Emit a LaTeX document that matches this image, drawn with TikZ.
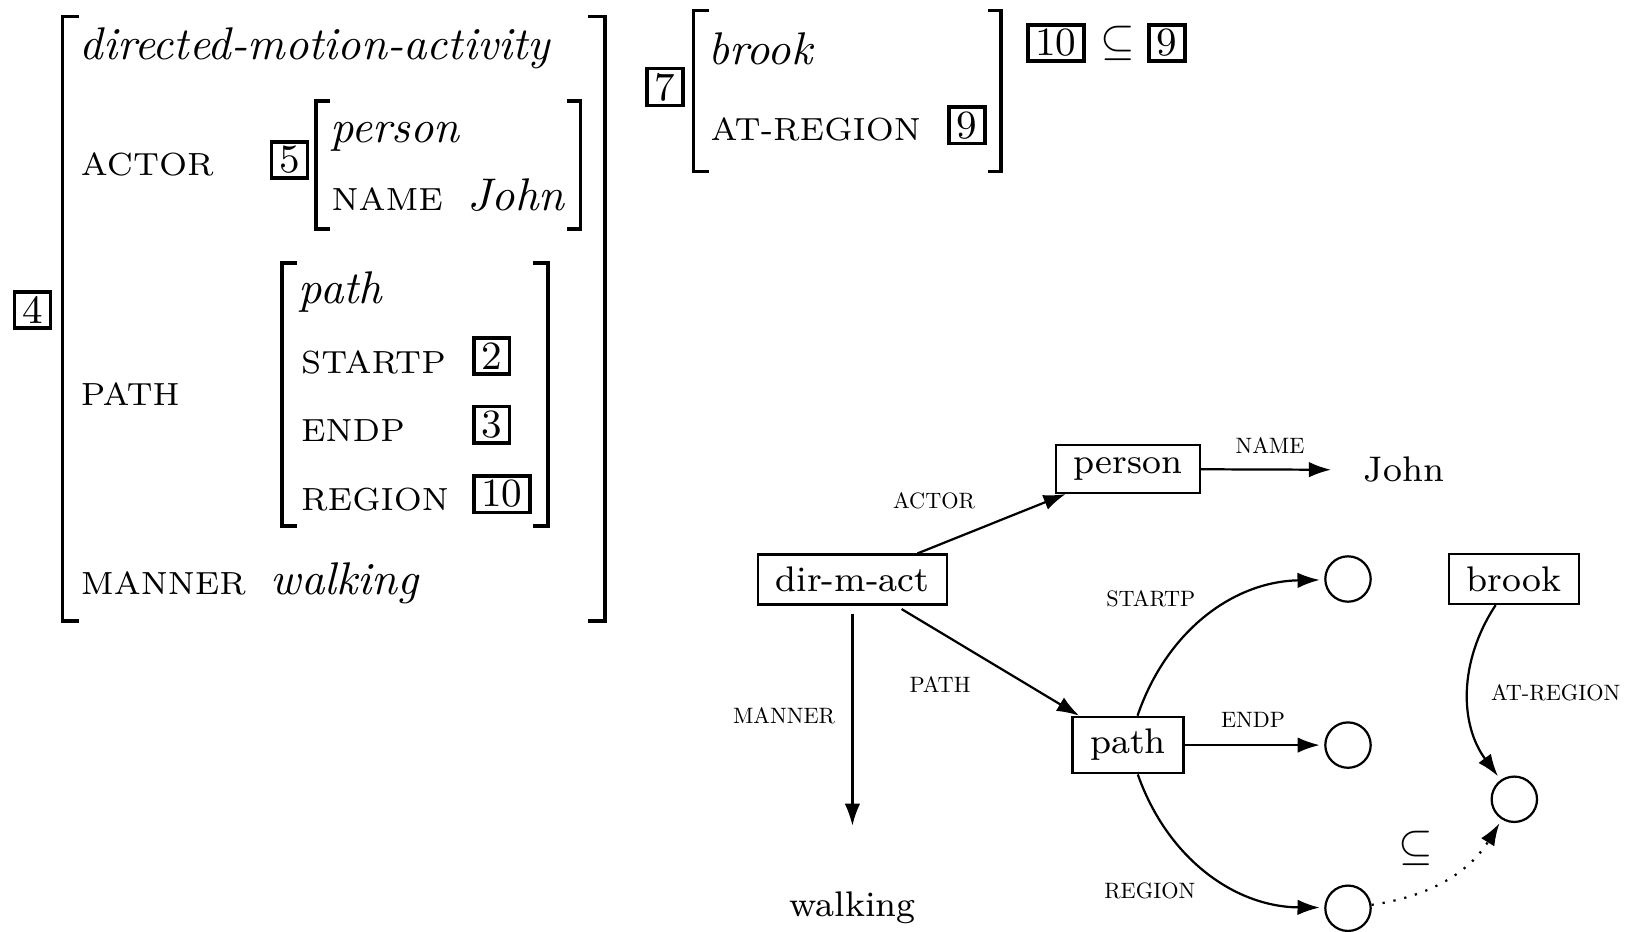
\documentclass[tikz,border=0pt]{standalone}
\usetikzlibrary{arrows.meta,positioning}
\tikzstyle{tag}=[draw,line width=0.8pt,inner xsep=1.7pt,inner ysep=1pt,font=\fontsize{9}{10}\selectfont]
\tikzstyle{attr}=[anchor=base west,inner sep=0pt,font=\fontsize{7.2}{9}\selectfont]
\tikzstyle{avmtype}=[anchor=base west,inner sep=0pt,font=\fontsize{10.3}{12}\selectfont\itshape]
\tikzstyle{brack}=[line width=0.8pt]
\tikzstyle{sortbox}=[draw,font=\footnotesize,inner xsep=4pt,inner ysep=2.8pt]
\tikzstyle{val}=[draw,circle,minimum size=10.2pt,inner sep=0pt]
\tikzstyle{feat}=[font=\normalsize,scale=0.5,transform shape]

\begin{document}
\begin{tikzpicture}[>={Latex[length=5pt,width=3.5pt]},line width=0.5pt]
\useasboundingbox (0,0) rectangle (12.853,-7.355);
% big avm
\draw (0.257,-2.449) node[tag] (tagfour) {4};
\draw[brack] (0.627,-0.132) -- (0.492,-0.132) -- (0.492,-4.906) -- (0.627,-4.906);
\draw[brack] (4.649,-0.132) -- (4.78,-0.132) -- (4.78,-4.906) -- (4.649,-4.906);
\draw (0.62,-0.470) node[avmtype] (avmdma) {directed-motion-activity};
\draw (0.63,-1.390) node[attr] (avmactor) {ACTOR};
\draw (2.287,-1.264) node[tag] (tagfive) {5};
\draw[brack] (2.606,-0.798) -- (2.496,-0.798) -- (2.496,-1.809) -- (2.606,-1.809);
\draw[brack] (4.476,-0.798) -- (4.586,-0.798) -- (4.586,-1.809) -- (4.476,-1.809);
\draw (2.60,-1.122) node[avmtype] (avmperson) {person};
\draw (2.61,-1.659) node[attr] (avmname) {NAME};
\draw (3.685,-1.659) node[avmtype] (avmjohn) {John};
\draw (0.63,-3.203) node[attr] (avmpath) {PATH};
\draw[brack] (2.348,-2.078) -- (2.228,-2.078) -- (2.228,-4.155) -- (2.348,-4.155);
\draw[brack] (4.209,-2.078) -- (4.329,-2.078) -- (4.329,-4.155) -- (4.209,-4.155);
\draw (2.353,-2.398) node[avmtype] (avmpathtype) {path};
\draw (2.37,-2.947) node[attr] (avmstartp) {STARTP};
\draw (3.729,-2.812) node[tag,anchor=west] (tagtwo) {2};
\draw (2.37,-3.484) node[attr] (avmendp) {ENDP};
\draw (3.729,-3.354) node[tag,anchor=west] (tagthree) {3};
\draw (2.37,-4.029) node[attr] (avmregion) {REGION};
\draw (3.729,-3.903) node[tag,anchor=west] (tagten) {10};
\draw (0.63,-4.693) node[attr] (avmmanner) {MANNER};
\draw (2.13,-4.693) node[avmtype] (avmwalking) {walking};
% brook avm
\draw (5.254,-0.687) node[tag] (tagseven) {7};
\draw[brack] (5.599,-0.082) -- (5.479,-0.082) -- (5.479,-1.355) -- (5.599,-1.355);
\draw[brack] (7.808,-0.082) -- (7.908,-0.082) -- (7.908,-1.355) -- (7.808,-1.355);
\draw (5.59,-0.508) node[avmtype] (avmbrook) {brook};
\draw (5.605,-1.106) node[attr] (avmatregion) {AT-REGION};
\draw (7.639,-0.991) node[tag] (tagnine) {9};
\draw (8.342,-0.340) node[tag] (toptagten) {10};
\draw (8.828,-0.346) node (topsub) {$\subseteq$};
\draw (9.219,-0.340) node[tag] (toptagnine) {9};
% graph
\draw (6.734,-4.578) node[sortbox] (dirmact) {dir-m-act};
\draw (8.911,-3.705) node[sortbox] (person) {person};
\draw (11.092,-3.713) node[font=\footnotesize] (john) {John};
\draw (8.911,-5.886) node[sortbox] (path) {path};
\draw (6.734,-7.173) node[font=\footnotesize] (walking) {walking};
\draw (10.649,-4.574) node[val] (startp) {};
\draw (10.649,-5.886) node[val] (endp) {};
\draw (10.649,-7.175) node[val] (region) {};
\draw (11.959,-4.574) node[sortbox] (brook) {brook};
\draw (11.963,-6.314) node[val] (atregion) {};
\draw[->] (dirmact) -- (person);
\draw[->,shorten <=1.5pt] (dirmact) -- (path);
\draw[->,shorten <=1.8pt,shorten >=11.3pt] (dirmact) -- (walking);
\draw[->,shorten >=3.8pt] (person) -- (john);
\draw[->,shorten >=1pt] (path) to[bend left=35] (startp);
\draw[->,shorten >=1pt] (path) -- (endp);
\draw[->,shorten >=1pt] (path) to[bend right=35] (region);
\draw[->,shorten >=1pt] (brook) to[bend right=35] (atregion);
\draw[->,dotted,shorten >=1pt] (region) to[bend right=25] (atregion);
\draw (10.033,-3.523) node[feat] (lname) {NAME};
\draw (7.379,-3.958) node[feat] (lactor) {ACTOR};
\draw (7.426,-5.410) node[feat] (lpath) {PATH};
\draw (6.194,-5.656) node[feat] (lmanner) {MANNER};
\draw (9.091,-4.730) node[feat] (lstartp) {STARTP};
\draw (9.899,-5.688) node[feat] (lendp) {ENDP};
\draw (9.083,-7.039) node[feat] (lregion) {REGION};
\draw (12.29,-5.475) node[feat] (latregion) {AT-REGION};
\draw (11.186,-6.699) node (lsub) {$\subseteq$};
\end{tikzpicture}
\end{document}
